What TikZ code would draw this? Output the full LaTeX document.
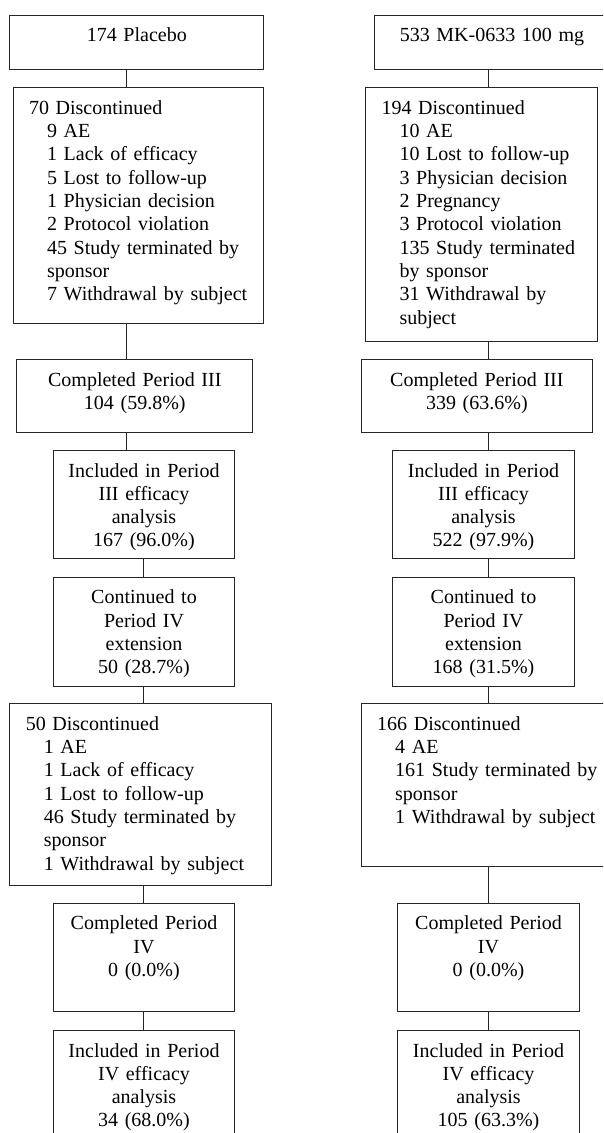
\documentclass[tikz,border=0pt]{standalone}
\usepackage{fontspec}
\setmainfont{Liberation Serif}
\newcommand{\rsn}{\hspace*{18pt}}
\tikzset{
  cbox/.style={draw=black!85, line width=1pt, anchor=north west, inner xsep=0pt, inner ysep=0pt,
    text height=26.5pt, align=center, font=\fontsize{20}{23.3}\selectfont},
  lbox/.style={cbox, align=left, inner xsep=16pt},
  link/.style={draw=black!85, line width=1pt}
}
\begin{document}
\begin{tikzpicture}[x=1pt,y=-1pt]
\useasboundingbox (0,0) rectangle (603,1133);
\clip (0,0) rectangle (603,1133);
% placebo arm
\node[cbox, text width=254pt, text depth=27.8pt] (A1) at (9.3,14.7) {174 Placebo};
\node[lbox, text width=218.8pt, text depth=208.9pt] (A2) at (12.5,87.3) {70 Discontinued\\\rsn 9 AE\\\rsn 1 Lack of efficacy\\\rsn 5 Lost to follow-up\\\rsn 1 Physician decision\\\rsn 2 Protocol violation\\\rsn 45 Study terminated by\\\rsn sponsor\\\rsn 7 Withdrawal by subject};
\node[cbox, text width=236pt, text depth=45.9pt] (A3) at (16.3,359.3) {Completed Period III\\104 (59.8\%)};
\node[cbox, text width=181.6pt, text depth=81.8pt] (A4) at (52.7,450) {Included in Period\\III efficacy\\analysis\\167 (96.0\%)};
\node[cbox, text width=181.6pt, text depth=82.5pt] (A5) at (52.7,576.7) {Continued to\\Period IV\\extension\\50 (28.7\%)};
\node[lbox, text width=229.4pt, text depth=154.9pt] (A6) at (9.3,703.3) {50 Discontinued\\\rsn 1 AE\\\rsn 1 Lack of efficacy\\\rsn 1 Lost to follow-up\\\rsn 46 Study terminated by\\\rsn sponsor\\\rsn 1 Withdrawal by subject};
\node[cbox, text width=181.6pt, text depth=82.1pt] (A7) at (52.7,902.7) {Completed Period\\IV\\0 (0.0\%)};
\node[cbox, text width=181.6pt, text depth=83.5pt] (A8) at (52.7,1030) {Included in Period\\IV efficacy\\analysis\\34 (68.0\%)};
% MK-0633 arm
\node[cbox, text width=235pt, text depth=27.8pt] (B1) at (374,14.7) {533 MK-0633 100 mg};
\node[lbox, text width=199.7pt, text depth=227.2pt] (B2) at (365,87.3) {194 Discontinued\\\rsn 10 AE\\\rsn 10 Lost to follow-up\\\rsn 3 Physician decision\\\rsn 2 Pregnancy\\\rsn 3 Protocol violation\\\rsn 135 Study terminated\\\rsn by sponsor\\\rsn 31 Withdrawal by\\\rsn subject};
\node[cbox, text width=231.3pt, text depth=45.9pt] (B3) at (360.7,359.3) {Completed Period III\\339 (63.6\%)};
\node[cbox, text width=182pt, text depth=81.8pt] (B4) at (392,450) {Included in Period\\III efficacy\\analysis\\522 (97.9\%)};
\node[cbox, text width=182pt, text depth=82.5pt] (B5) at (392,576.7) {Continued to\\Period IV\\extension\\168 (31.5\%)};
\node[lbox, text width=229.4pt, text depth=136.2pt] (B6) at (360.7,703.3) {166 Discontinued\\\rsn 4 AE\\\rsn 161 Study terminated by\\\rsn sponsor\\\rsn 1 Withdrawal by subject};
\node[cbox, text width=181.4pt, text depth=82.1pt] (B7) at (397.3,902.7) {Completed Period\\IV\\0 (0.0\%)};
\node[cbox, text width=181.4pt, text depth=83.5pt] (B8) at (397.3,1030) {Included in Period\\IV efficacy\\analysis\\105 (63.3\%)};
% connectors
\coordinate (lx) at (126,0);
\coordinate (ly) at (143.7,0);
\coordinate (rx) at (488,0);
\draw[link] (A1.south -| lx) -- (A2.north -| lx);
\draw[link] (A2.south -| lx) -- (A3.north -| lx);
\draw[link] (A3.south -| lx) -- (A4.north -| lx);
\draw[link] (A4.south -| ly) -- (A5.north -| ly);
\draw[link] (A5.south -| ly) -- (A6.north -| ly);
\draw[link] (A6.south -| ly) -- (A7.north -| ly);
\draw[link] (A7.south -| ly) -- (A8.north -| ly);
\draw[link] (B1.south -| rx) -- (B2.north -| rx);
\draw[link] (B2.south -| rx) -- (B3.north -| rx);
\draw[link] (B3.south -| rx) -- (B4.north -| rx);
\draw[link] (B4.south -| rx) -- (B5.north -| rx);
\draw[link] (B5.south -| rx) -- (B6.north -| rx);
\draw[link] (B6.south -| rx) -- (B7.north -| rx);
\draw[link] (B7.south -| rx) -- (B8.north -| rx);
\end{tikzpicture}
\end{document}
